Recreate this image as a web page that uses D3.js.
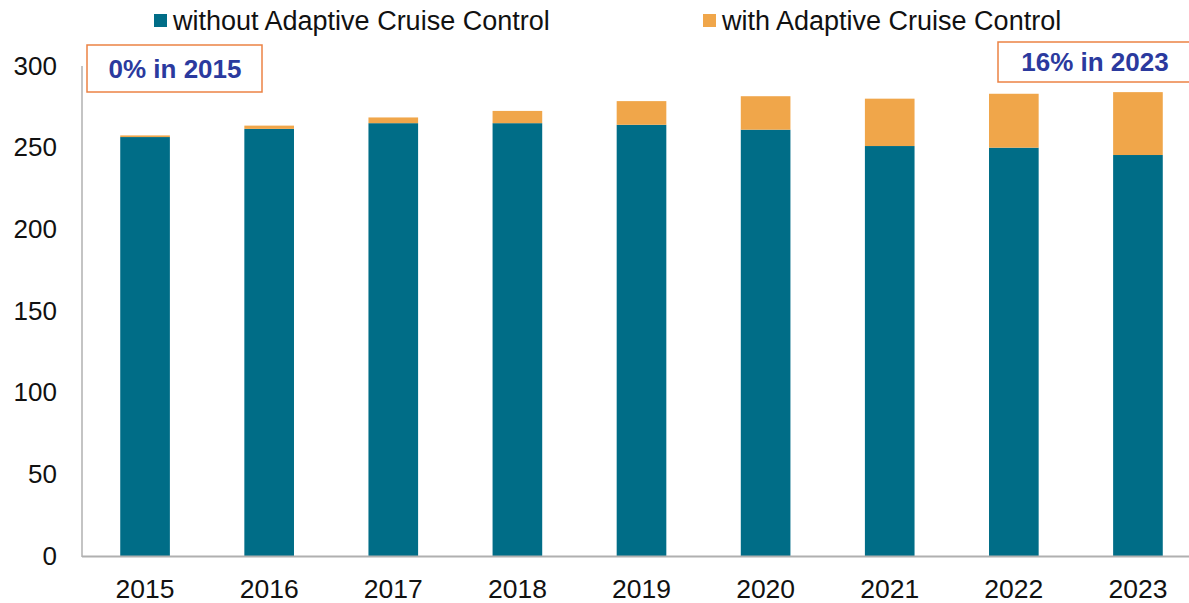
<!DOCTYPE html>
<html>
<head>
<meta charset="utf-8">
<script src="https://cdn.jsdelivr.net/npm/d3@7"></script>
<style>
    body { margin: 0; background: #fff; }
    text { font-family: "Liberation Sans", Arial, sans-serif; }
</style>
</head>
<body>
<div id="chartcontainer"></div>
<script>
// chart data
var years = ["2015", "2016", "2017", "2018", "2019", "2020", "2021", "2022", "2023"];
var withoutAcc = [256.5, 261.5, 265, 265, 264, 261, 251, 250, 245.5];
var withAcc = [1, 2, 3.5, 7.5, 14.5, 20.5, 29, 33, 38.5];
var yTicks = [0, 50, 100, 150, 200, 250, 300];
var seriesNames = ["without Adaptive Cruise Control", "with Adaptive Cruise Control"];
var notes = ["0% in 2015", "16% in 2023"];

var colors = ["#006d87", "#f0a64a"],
    width = 1189,
    height = 603;

var svg = d3.select("#chartcontainer")
    .append("svg")
    .attr("width", width)
    .attr("height", height);

// scales
var x = d3.scaleBand()
    .domain(years)
    .range([83, 1200])
    .paddingInner(0.6)
    .paddingOuter(0.3);

var y = d3.scaleLinear()
    .domain([0, 300])
    .range([556, 66]);

// stack the two series
var rows = years.map(function (yr, i) {
    return { year: yr, without: withoutAcc[i], with: withAcc[i] };
});
var stacked = d3.stack().keys(["without", "with"])(rows);

svg.selectAll("g.series")
    .data(stacked)
    .enter().append("g")
    .attr("class", "series")
    .style("fill", function (d, i) {
        return colors[i];
    })
    .selectAll("rect")
    .data(function (d) { return d; })
    .enter().append("rect")
    .attr("x", function (d) { return x(d.data.year); })
    .attr("y", function (d) { return y(d[1]); })
    .attr("width", x.bandwidth())
    .attr("height", function (d) { return y(d[0]) - y(d[1]); });

// axes
var yAxis = svg.append("g")
    .attr("transform", "translate(82,0)")
    .call(d3.axisLeft(y).tickValues(yTicks).tickSize(0).tickPadding(25));
yAxis.select(".domain").remove();
yAxis.selectAll("text")
    .attr("font-size", "26px")
    .attr("fill", "#111")
    .style("font-family", "'Liberation Sans', Arial, sans-serif");

var xAxis = svg.append("g")
    .attr("transform", "translate(0,556)")
    .call(d3.axisBottom(x).tickSize(0).tickPadding(23));
xAxis.select(".domain").remove();
xAxis.selectAll("text")
    .attr("font-size", "26.5px")
    .attr("fill", "#111")
    .style("font-family", "'Liberation Sans', Arial, sans-serif");

svg.append("line")
    .attr("x1", 82).attr("x2", 82)
    .attr("y1", 66).attr("y2", 557)
    .attr("stroke", "#b0b0b0").attr("stroke-width", 1.5);
svg.append("line")
    .attr("x1", 82).attr("x2", width)
    .attr("y1", 556.5).attr("y2", 556.5)
    .attr("stroke", "#b0b0b0").attr("stroke-width", 2);

// legend
var legendX = [154, 703];
var legend = svg.selectAll("g.legend")
    .data(seriesNames)
    .enter().append("g")
    .attr("class", "legend")
    .attr("transform", function (d, i) {
        return "translate(" + legendX[i] + ",0)";
    });
legend.append("rect")
    .attr("x", 0).attr("y", 14)
    .attr("width", 13).attr("height", 13)
    .style("fill", function (d, i) { return colors[i]; });
legend.append("text")
    .attr("x", 19).attr("y", 30)
    .attr("font-size", "27px")
    .attr("fill", "#111")
    .text(function (d) { return d; });

// annotation boxes
var noteBoxes = [
    { x: 87, y: 45, w: 175, h: 47 },
    { x: 998, y: 42, w: 210, h: 40 }
];
var noteTextX = [175, 1095];
noteBoxes.forEach(function (b, i) {
    svg.append("rect")
        .attr("x", b.x).attr("y", b.y)
        .attr("width", b.w).attr("height", b.h)
        .attr("fill", "#fff")
        .attr("stroke", "#ec8244")
        .attr("stroke-width", 1.5);
    svg.append("text")
        .attr("x", noteTextX[i])
        .attr("y", b.y + b.h / 2 + 9)
        .attr("text-anchor", "middle")
        .attr("font-size", "26px")
        .attr("font-weight", "bold")
        .attr("fill", "#2b3a9e")
        .text(notes[i]);
});
</script>
</body>
</html>
